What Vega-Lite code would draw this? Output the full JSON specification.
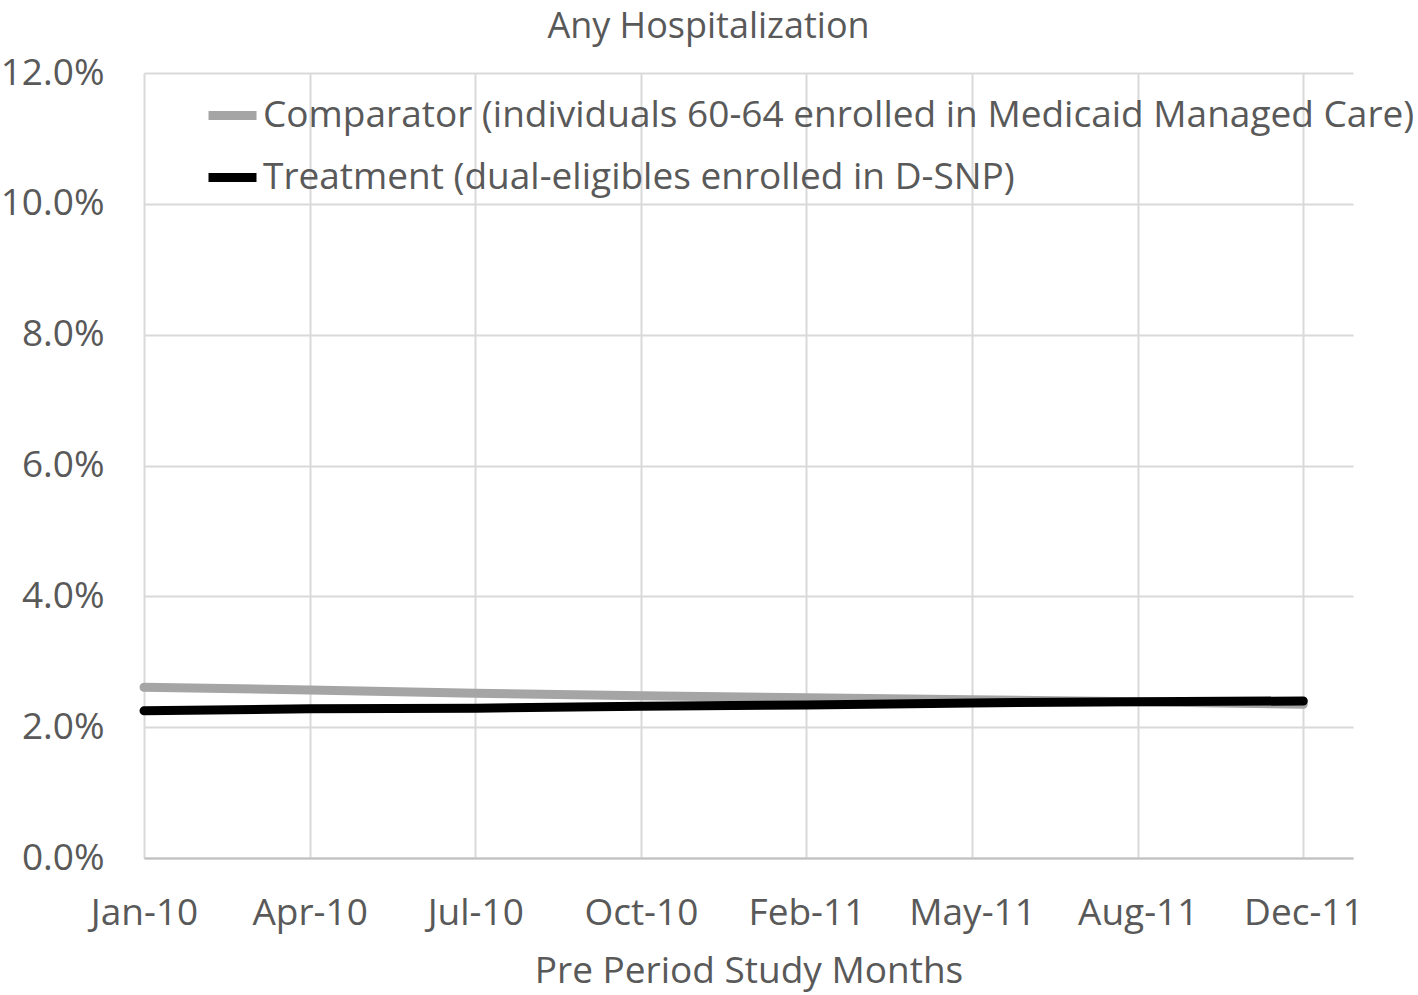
{
  "$schema": "https://vega.github.io/schema/vega-lite/v6.json",
  "width": 1209,
  "height": 785,
  "autosize": {"type": "none"},
  "padding": {"left": 144, "top": 73, "right": 65, "bottom": 137},
  "background": "white",
  "config": {
    "font": "Open Sans",
    "view": {"stroke": null}
  },
  "title": {
    "text": "Any Hospitalization",
    "fontSize": 36,
    "fontWeight": "normal",
    "color": "#595959",
    "offset": 8,
    "dx": -40
  },
  "data": {
    "values": [
      {"month": "Jan-10", "idx": 0, "series": "Comparator (individuals 60-64 enrolled in Medicaid Managed Care)", "value": 0.0261},
      {"month": "Apr-10", "idx": 3, "series": "Comparator (individuals 60-64 enrolled in Medicaid Managed Care)", "value": 0.0257},
      {"month": "Jul-10", "idx": 6, "series": "Comparator (individuals 60-64 enrolled in Medicaid Managed Care)", "value": 0.0252},
      {"month": "Oct-10", "idx": 9, "series": "Comparator (individuals 60-64 enrolled in Medicaid Managed Care)", "value": 0.0248},
      {"month": "Feb-11", "idx": 12, "series": "Comparator (individuals 60-64 enrolled in Medicaid Managed Care)", "value": 0.0245},
      {"month": "May-11", "idx": 15, "series": "Comparator (individuals 60-64 enrolled in Medicaid Managed Care)", "value": 0.0242},
      {"month": "Aug-11", "idx": 18, "series": "Comparator (individuals 60-64 enrolled in Medicaid Managed Care)", "value": 0.0239},
      {"month": "Dec-11", "idx": 21, "series": "Comparator (individuals 60-64 enrolled in Medicaid Managed Care)", "value": 0.0235},
      {"month": "Jan-10", "idx": 0, "series": "Treatment (dual-eligibles enrolled in D-SNP)", "value": 0.0225},
      {"month": "Apr-10", "idx": 3, "series": "Treatment (dual-eligibles enrolled in D-SNP)", "value": 0.0228},
      {"month": "Jul-10", "idx": 6, "series": "Treatment (dual-eligibles enrolled in D-SNP)", "value": 0.0229},
      {"month": "Oct-10", "idx": 9, "series": "Treatment (dual-eligibles enrolled in D-SNP)", "value": 0.0232},
      {"month": "Feb-11", "idx": 12, "series": "Treatment (dual-eligibles enrolled in D-SNP)", "value": 0.0234},
      {"month": "May-11", "idx": 15, "series": "Treatment (dual-eligibles enrolled in D-SNP)", "value": 0.0237},
      {"month": "Aug-11", "idx": 18, "series": "Treatment (dual-eligibles enrolled in D-SNP)", "value": 0.0239},
      {"month": "Dec-11", "idx": 21, "series": "Treatment (dual-eligibles enrolled in D-SNP)", "value": 0.0240}
    ]
  },
  "mark": {"type": "line", "strokeWidth": 9, "strokeCap": "round", "strokeJoin": "round"},
  "encoding": {
    "x": {
      "field": "idx",
      "type": "quantitative",
      "scale": {"domain": [0, 21.9], "nice": false, "zero": false},
      "axis": {
        "title": "Pre Period Study Months",
        "titleFontSize": 37,
        "titleFontWeight": "normal",
        "titleColor": "#595959",
        "titlePadding": 22,
        "values": [0, 3, 6, 9, 12, 15, 18, 21],
        "labelExpr": "['Jan-10','Apr-10','Jul-10','Oct-10','Feb-11','May-11','Aug-11','Dec-11'][round(datum.value/3)]",
        "labelFontSize": 37,
        "labelColor": "#595959",
        "labelPadding": 37,
        "labelFlush": false,
        "ticks": false,
        "domain": true,
        "domainColor": "#bfbfbf",
        "domainWidth": 2,
        "grid": true,
        "gridColor": "#d9d9d9",
        "gridWidth": 2
      }
    },
    "y": {
      "field": "value",
      "type": "quantitative",
      "scale": {"domain": [0, 0.12], "nice": false},
      "axis": {
        "title": null,
        "format": ".1%",
        "values": [0, 0.02, 0.04, 0.06, 0.08, 0.1, 0.12],
        "labelFontSize": 37,
        "labelColor": "#595959",
        "labelPadding": 40,
        "ticks": false,
        "domain": false,
        "grid": true,
        "gridColor": "#d9d9d9",
        "gridWidth": 2
      }
    },
    "color": {
      "field": "series",
      "type": "nominal",
      "scale": {
        "domain": ["Comparator (individuals 60-64 enrolled in Medicaid Managed Care)", "Treatment (dual-eligibles enrolled in D-SNP)"],
        "range": ["#a5a5a5", "#000000"]
      },
      "legend": {
        "title": null,
        "orient": "none",
        "legendX": 60,
        "legendY": 14,
        "symbolType": "stroke",
        "symbolSize": 2304,
        "symbolStrokeWidth": 9,
        "labelFontSize": 37,
        "labelColor": "#595959",
        "labelOffset": 2,
        "labelLimit": 2000,
        "rowPadding": 15
      }
    },
    "order": {"field": "series"}
  }
}
